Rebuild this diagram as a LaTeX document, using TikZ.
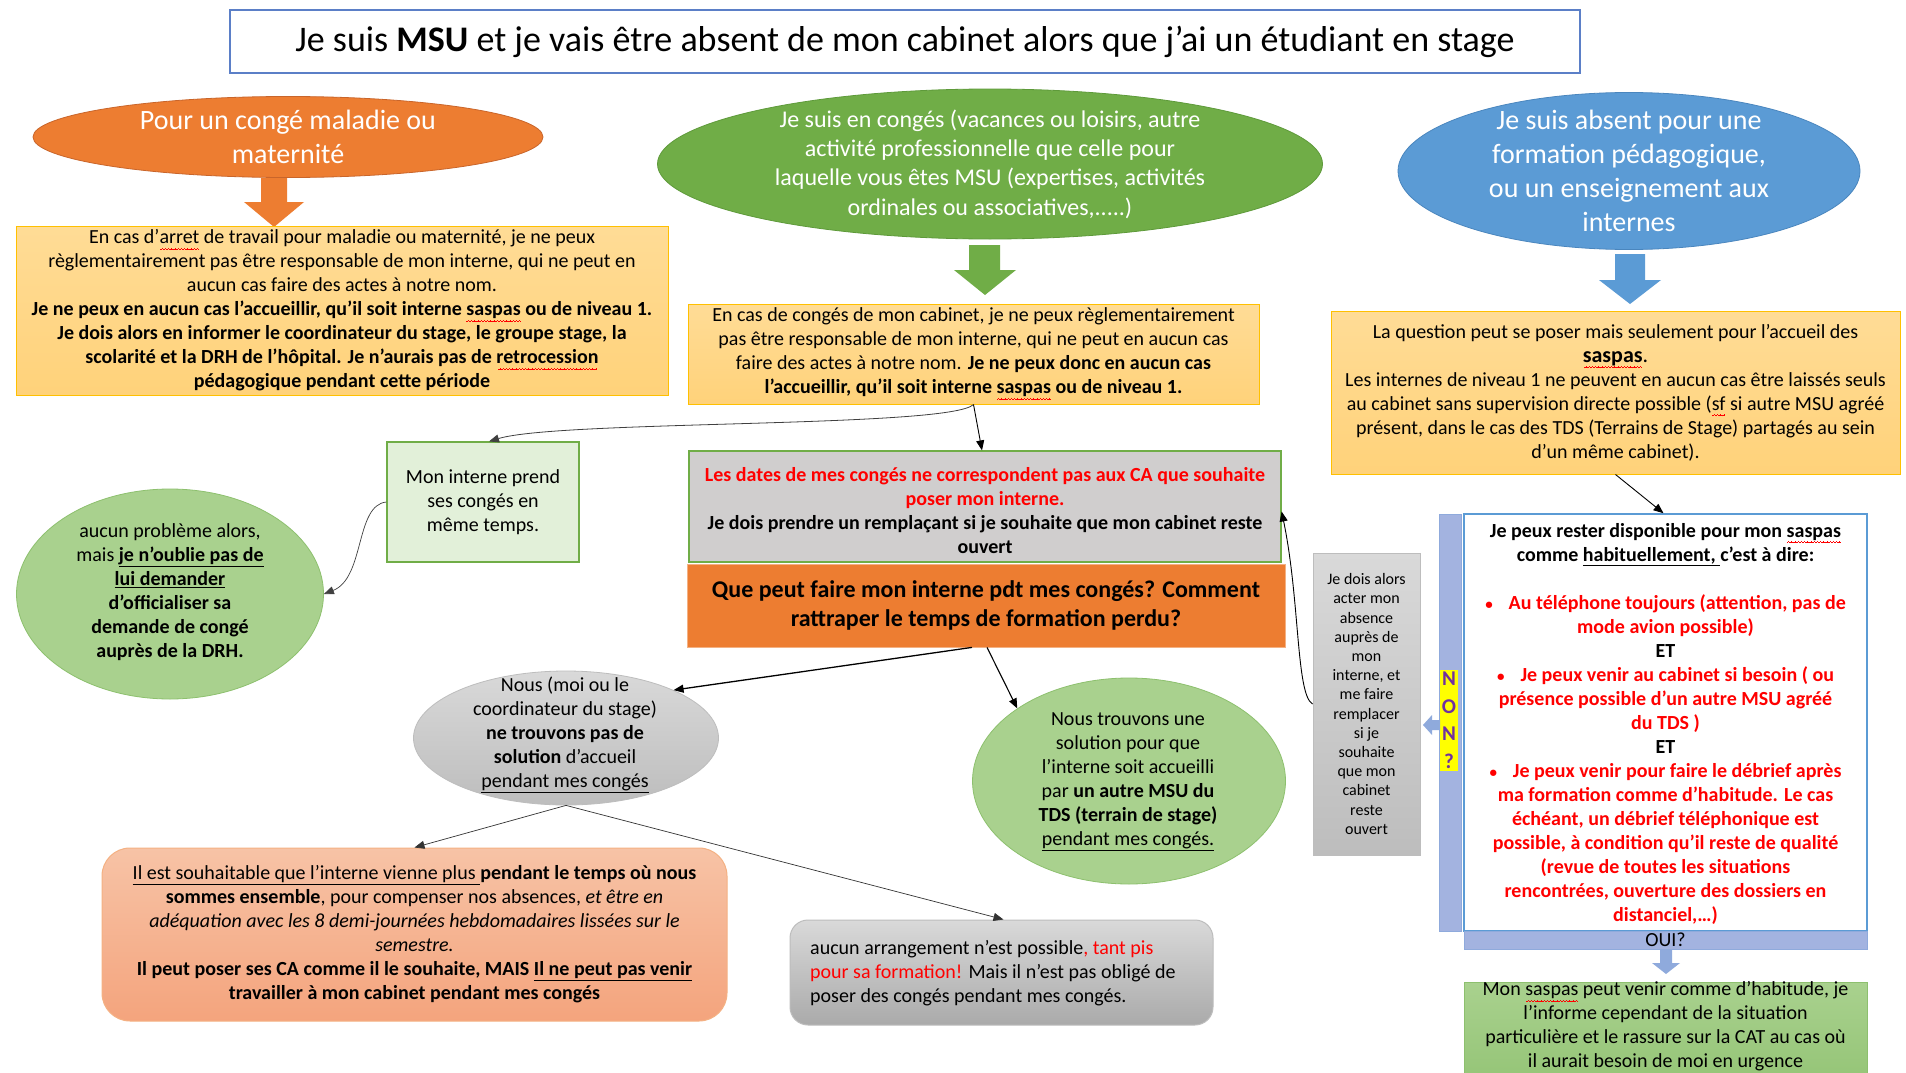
\documentclass[tikz,border=0pt]{standalone}
\usepackage{fontspec}
\setmainfont{Carlito}
\usetikzlibrary{shapes.geometric,arrows.meta}
\definecolor{orgA}{HTML}{ED7D31}
\definecolor{orgD}{HTML}{C9652A}
\definecolor{grnA}{HTML}{70AD47}
\definecolor{grnD}{HTML}{5E9A3A}
\definecolor{bluA}{HTML}{5B9BD5}
\definecolor{bluD}{HTML}{4A86BE}
\definecolor{yelT}{HTML}{FFDC96}
\definecolor{yelB}{HTML}{FFD27A}
\definecolor{yelD}{HTML}{FFC000}
\definecolor{lgrn}{HTML}{E2F0D9}
\definecolor{mgrn}{HTML}{A9D18E}
\definecolor{mgrnD}{HTML}{8DC06E}
\definecolor{gryA}{HTML}{D0CECE}
\definecolor{gryT}{HTML}{D9D9D9}
\definecolor{gryB}{HTML}{BDBDBD}
\definecolor{salT}{HTML}{F7C3A6}
\definecolor{salB}{HTML}{F4A47D}
\definecolor{salD}{HTML}{F4B183}
\definecolor{barB}{HTML}{A3B3E0}
\definecolor{barD}{HTML}{8FAADC}
\definecolor{ttlD}{HTML}{5B7FC7}
\definecolor{redT}{HTML}{FF0000}
\definecolor{purT}{HTML}{7030A0}
\definecolor{yelH}{HTML}{FFFF00}
\newsavebox\splbox
\newcommand\wavepiece{\hbox{\rule[-6.2pt]{0.8pt}{0.9pt}\rule[-5.6pt]{0.8pt}{0.9pt}\rule[-5pt]{0.8pt}{0.9pt}\rule[-5.6pt]{0.8pt}{0.9pt}}}
\newcommand\spl[1]{\sbox\splbox{#1}\rlap{\hbox to \wd\splbox{\color{redT}\cleaders\wavepiece\hfill}}\usebox\splbox}
\newcommand\uln[1]{\underline{#1}}
\newcommand\bul{{\fontsize{15}{15}\selectfont•}\hspace{16pt}}
\tikzset{
  txt/.style={align=center, inner sep=0pt, font=\fontsize{20}{24}\selectfont},
  conn/.style={-{Triangle[length=10pt,width=8pt]}, line width=0.9pt, black},
  ybox/.style={draw=yelD, line width=1pt, top color=yelT, bottom color=yelB, inner sep=0pt},
}
\begin{document}
\begin{tikzpicture}[x=1pt,y=-1pt]
\useasboundingbox (0,0) rectangle (1906,1073);
\fill[white] (0,0) rectangle (1906,1073);

% title
\node[draw=ttlD, line width=1.5pt, minimum width=1350, minimum height=63, inner sep=0pt,
      font=\fontsize{36}{40}\selectfont] (title) at (905,41.5)
  {Je suis \textbf{MSU} et je vais être absent de mon cabinet alors que j’ai un étudiant en stage};

% ---- left column
\node[ellipse, draw=orgD, line width=0.8pt, fill=orgA, minimum width=510, minimum height=81, inner sep=0pt] (oe) at (288,137) {};
\node[txt, text=white, font=\fontsize{28}{34}\selectfont] (oet) at (oe.center) {Pour un congé maladie ou\\maternité};
\fill[orgA] (261,178) -- (287,178) -- (287,202) -- (304,202) -- (274,227) -- (244,202) -- (261,202) -- cycle;

\node[ybox, minimum width=652, minimum height=169, txt] (y1) at (342,310.5)
 {En cas d’\spl{arret} de travail pour maladie ou maternité, je ne peux\\
  règlementairement pas être responsable de mon interne, qui ne peut en\\
  aucun cas faire des actes à notre nom.\\
  \textbf{Je ne peux en aucun cas l’accueillir, qu’il soit interne \spl{saspas} ou de niveau 1.}\\
  \textbf{Je dois alors en informer le coordinateur du stage, le groupe stage, la}\\
  \textbf{scolarité et la DRH de l’hôpital. Je n’aurais pas de \spl{retrocession}}\\
  \textbf{pédagogique pendant cette période}};

% ---- middle column
\node[ellipse, draw=grnD, line width=0.8pt, fill=grnA, minimum width=665, minimum height=150, inner sep=0pt] (ge1) at (990,164) {};
\node[txt, text=white, font=\fontsize{24}{29.3}\selectfont] (ge1t) at (ge1.center)
 {Je suis en congés (vacances ou loisirs, autre\\activité professionnelle que celle pour\\laquelle vous êtes MSU (expertises, activités\\ordinales ou associatives,.....)};
\fill[grnA] (969,245) -- (1000,245) -- (1000,270) -- (1016,270) -- (985,295) -- (954,270) -- (969,270) -- cycle;

\node[ybox, minimum width=571, minimum height=100, txt] (y2) at (973.5,354)
 {En cas de congés de mon cabinet, je ne peux règlementairement\\
  pas être responsable de mon interne, qui ne peut en aucun cas\\
  faire des actes à notre nom. \textbf{Je ne peux donc en aucun cas}\\
  \textbf{l’accueillir, qu’il soit interne \spl{saspas} ou de niveau 1.}};

% ---- right column
\node[ellipse, draw=bluD, line width=0.8pt, fill=bluA, minimum width=462, minimum height=157, inner sep=0pt] (be) at (1629,171) {};
\node[txt, text=white, font=\fontsize{28}{34}\selectfont] (bet) at (be.center)
 {Je suis absent pour une\\formation pédagogique,\\ou un enseignement aux\\internes};
\fill[bluA] (1615,254) -- (1645,254) -- (1645,280) -- (1661,280) -- (1630,304) -- (1599,280) -- (1615,280) -- cycle;

\node[ybox, minimum width=569, minimum height=163, txt] (y3) at (1615.5,392.5)
 {La question peut se poser mais seulement pour l’accueil des\\
  {\fontsize{22}{26}\selectfont\textbf{\spl{saspas}}.}\\
  Les internes de niveau 1 ne peuvent en aucun cas être laissés seuls\\
  au cabinet sans supervision directe possible (\spl{sf} si autre MSU agréé\\
  présent, dans le cas des TDS (Terrains de Stage) partagés au sein\\
  d’un même cabinet).};

% ---- middle area
\node[draw=grnA, line width=1.2pt, fill=lgrn, minimum width=192, minimum height=120, txt] (mi) at (483,502)
 {Mon interne prend\\ses congés en\\même temps.};

\node[ellipse, draw=mgrnD, line width=0.8pt, fill=mgrn, minimum width=307, minimum height=210, inner sep=0pt] (gc) at (170,594) {};
\node[txt] (gct) at (170,592.5)
 {aucun problème alors,\\
  mais \textbf{\uln{je n'oublie pas de}}\\
  \textbf{\uln{lui demander}}\\
  \textbf{d'officialiser sa}\\
  \textbf{demande de congé}\\
  \textbf{auprès de la DRH.}};

\node[draw=grnA, line width=1.2pt, fill=gryA, minimum width=592, minimum height=111, inner sep=0pt] (gr) at (985,506.5) {};
\node[txt, font=\fontsize{20}{24}\selectfont\bfseries] (grt) at (985,510.5)
 {\textcolor{redT}{Les dates de mes congés ne correspondent pas aux CA que souhaite}\\
  \textcolor{redT}{poser mon interne.}\\
  Je dois prendre un remplaçant si je souhaite que mon cabinet reste\\
  ouvert};

\node[draw=salD, line width=0.8pt, fill=orgA, minimum width=598, minimum height=83, txt,
      font=\fontsize{24}{29}\selectfont\bfseries] (ob) at (986,605.5)
 {Que peut faire mon interne pdt mes congés? Comment\\rattraper le temps de formation perdu?};

% narrow grey box
\node[draw=gryB, line width=0.8pt, top color=gryT, bottom color=gryB, minimum width=107, minimum height=302, txt,
      font=\fontsize{16}{19.2}\selectfont] (nb) at (1366.5,704)
 {Je dois alors\\acter mon\\absence\\auprès de\\mon\\interne, et\\me faire\\remplacer\\si je\\souhaite\\que mon\\cabinet\\reste\\ouvert};

% NON? bar and white box
\node[draw=barD, line width=1pt, fill=barB, minimum width=22, minimum height=417, inner sep=0pt] (bar) at (1450,722.5) {};
\node[fill=yelH, text=purT, inner xsep=1.5pt, inner ysep=2pt, align=center,
      font=\fontsize{21}{27.5}\selectfont\bfseries] (non) at (1449,720.5) {N\\O\\N\\?};
\fill[barD] (1440,720) -- (1432,720) -- (1432,715) -- (1423,725) -- (1432,735) -- (1432,730) -- (1440,730) -- cycle;

\node[draw=bluA, line width=1.5pt, fill=white, minimum width=403, minimum height=417, inner sep=0pt] (wb) at (1665.5,722.5) {};
\node[txt, font=\fontsize{20}{24}\selectfont\bfseries] (wbt) at (1665.5,723.5)
 {Je peux rester disponible pour mon \spl{saspas}\\
  comme \uln{habituellement, }c’est à dire:\\[24pt]
  \textcolor{redT}{\bul Au téléphone toujours (attention, pas de}\\
  \textcolor{redT}{mode avion possible)}\\
  ET\\
  \textcolor{redT}{\bul Je peux venir au cabinet si besoin ( ou}\\
  \textcolor{redT}{présence possible d’un autre MSU agréé}\\
  \textcolor{redT}{du TDS )}\\
  ET\\
  \textcolor{redT}{\bul Je peux venir pour faire le débrief après}\\
  \textcolor{redT}{ma formation comme d’habitude. Le cas}\\
  \textcolor{redT}{échéant, un débrief téléphonique est}\\
  \textcolor{redT}{possible, à condition qu’il reste de qualité}\\
  \textcolor{redT}{(revue de toutes les situations}\\
  \textcolor{redT}{rencontrées, ouverture des dossiers en}\\
  \textcolor{redT}{distanciel,…)}};

\node[draw=barD, line width=1pt, fill=barB, minimum width=403, minimum height=18, txt] (oui) at (1665.5,940) {OUI?};
\fill[barD] (1660,950) -- (1672,950) -- (1672,963) -- (1680,963) -- (1666,974) -- (1652,963) -- (1660,963) -- cycle;

\node[draw=mgrnD, line width=1pt, top color=mgrn, bottom color=mgrnD!80!mgrn, minimum width=403, minimum height=110, inner sep=0pt] (gbx) at (1665.5,1037) {};
\node[txt] (gbxt) at (1665.5,1026.5)
 {Mon \spl{saspas} peut venir comme d’habitude, je\\
  l’informe cependant de la situation\\
  particulière et le rassure sur la CAT au cas où\\
  il aurait besoin de moi en urgence};

% lower middle
\node[ellipse, draw=gryB, line width=0.8pt, top color=gryT, bottom color=gryB, minimum width=305, minimum height=134, inner sep=0pt] (ge) at (566,738) {};
\node[txt] (get) at (565,735)
 {Nous (moi ou le\\coordinateur du stage)\\\textbf{ne trouvons pas de}\\\textbf{solution} d'accueil\\\uln{pendant mes congés}};

\node[ellipse, draw=mgrnD, line width=0.8pt, fill=mgrn, minimum width=313, minimum height=206, inner sep=0pt] (gre) at (1129,781) {};
\node[txt] (gret) at (1128,782)
 {Nous trouvons une\\solution pour que\\l’interne soit accueilli\\par \textbf{un autre MSU du}\\\textbf{TDS (terrain de stage)}\\\uln{pendant mes congés.}};

\node[draw=salD, line width=1pt, rounded corners=28pt, top color=salT, bottom color=salB, minimum width=625, minimum height=173, txt] (sa) at (414.5,934.5)
 {\uln{Il est souhaitable que l’interne vienne plus }\textbf{pendant le temps où nous}\\
  \textbf{sommes ensemble}, pour compenser nos absences, \textit{et être en}\\
  \textit{adéquation avec les 8 demi-journées hebdomadaires lissées sur le}\\
  \textit{semestre.}\\
  \textbf{Il peut poser ses CA comme il le souhaite, MAIS \uln{Il ne peut pas venir}}\\
  \textbf{travailler à mon cabinet pendant mes congés}};

\node[draw=gryB, line width=1pt, rounded corners=18pt, top color=gryT, bottom color=gryB!90!black, minimum width=423, minimum height=105, inner sep=0pt] (gb) at (1001.5,972.5) {};
\node[txt, align=left, anchor=west] (gbt) at (810,973.5)
 {aucun arrangement n'est possible\textcolor{redT}{, tant pis}\\
  \textcolor{redT}{pour sa formation!} Mais il n’est pas obligé de\\
  poser des congés pendant mes congés.};

% connectors
\draw[conn, line width=0.8pt, draw=black!75] (y2.south) .. controls (950,428) and (560,420) .. ([xshift=6]mi.north);
\draw[conn] (y2.south) -- ([xshift=-3]gr.north);
\draw[conn, line width=0.7pt, draw=black!75] (mi.west) .. controls (355,505) and (365,578) .. (gc.east);
\draw[conn, line width=1.3pt] ([xshift=-14]ob.south) -- (ge.24);
\draw[conn, line width=1.1pt] ([xshift=1]ob.south) -- (gre.147);
\draw[conn, line width=0.7pt, draw=black!80] (ge.south) -- (sa.north);
\draw[conn, line width=0.7pt, draw=black!80] (ge.south) -- ([xshift=2]gb.north);
\draw[conn] (y3.south) -- ([xshift=-2]wb.north);
\draw[conn] (nb.west) .. controls (1296,695) and (1300,600) .. ([yshift=-5]gr.east);
\end{tikzpicture}
\end{document}
